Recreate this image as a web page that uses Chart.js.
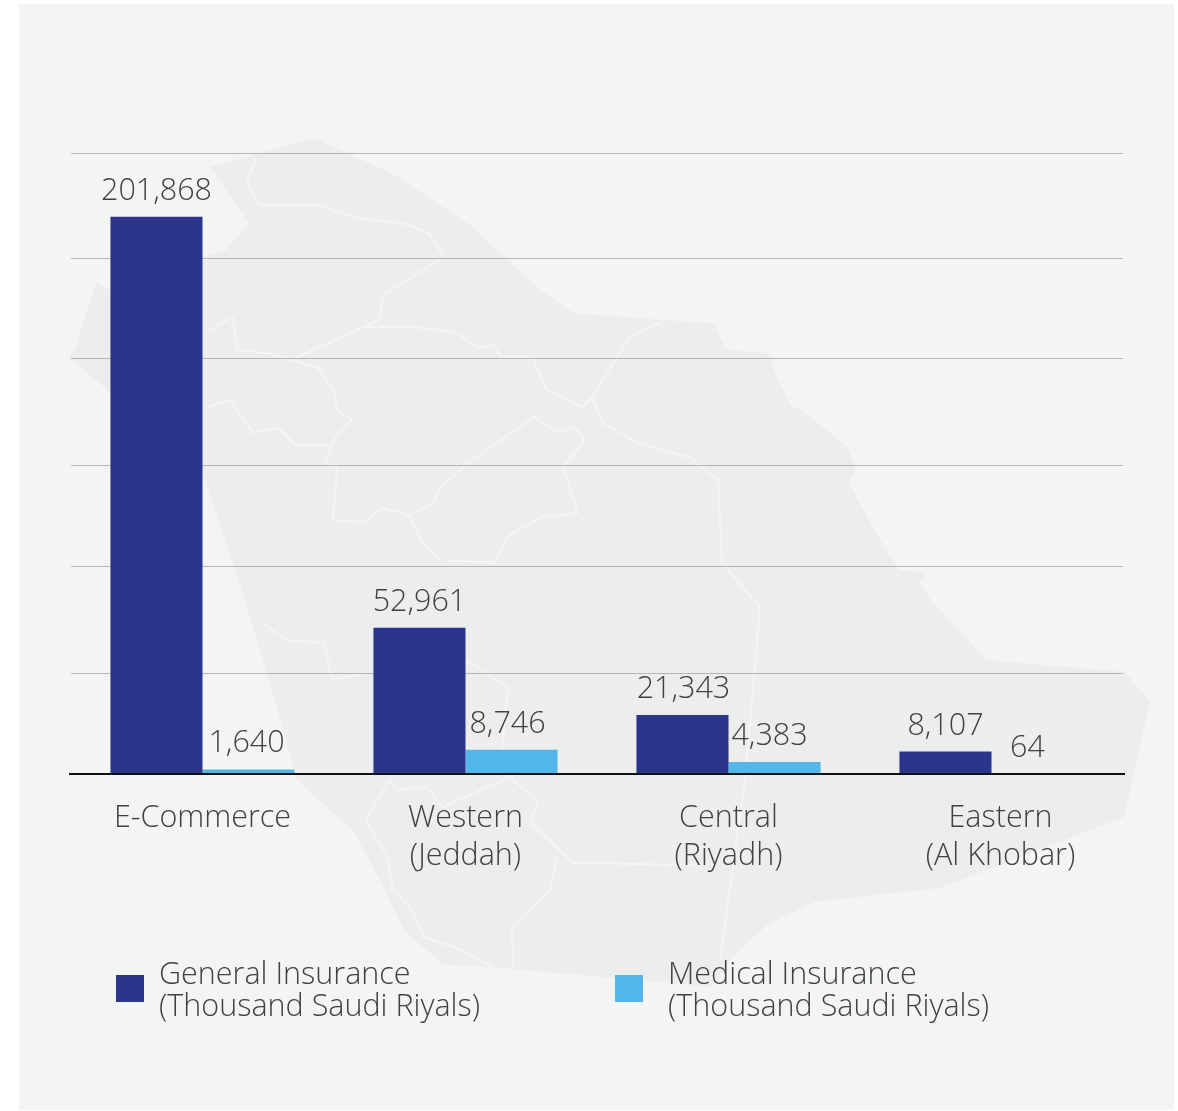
<!DOCTYPE html>
<html>
<head>
<meta charset="utf-8">
<title>Insurance by region</title>
<script src="https://cdn.jsdelivr.net/npm/chart.js@4"></script>
<style>
html,body{margin:0;padding:0;background:#fff;}
#wrap{position:relative;width:1178px;height:1111px;overflow:hidden;}
#panel{position:absolute;left:19px;top:4px;width:1155px;height:1106px;background:#f3f5f5;}
#map{position:absolute;left:0;top:0;}
#myChart{position:absolute;left:0;top:0;}
</style>
</head>
<body>
<div id="wrap">
<div id="panel"></div>
<svg id="map" width="1178" height="1111" viewBox="0 0 1178 1111">
<path fill="#eceeee" d="M314 138 L395 175 L470 225 L540 290 L574 313 L662 320 L714 323 L726 350 L768 353 L776 375 L791 405 L808 415 L847 447 L856 467 L849 483 L876 533 L899 570 L927 573 L920 583 L933 603 L987 660 L1125 672 L1150 702 L1124 817 L940 888 L814 902 L767 925 L730 960 L711 987 L600 977 L492 967 L443 965 L404 930 L381 883 L355 833 L297 780 L274 697 L244 597 L203 473 L69 357 L76 347 L96 282 L111 290 L203 257 L226 250 L249 223 L210 167 Z"/>
<g fill="none" stroke="#f3f5f5" stroke-width="2" stroke-linejoin="round">
<polyline points="256,157 247,183 260,205 318,205 356,218 402,223 429,233 444,257 383,295 379,320 364,327 295,358"/>
<polyline points="364,327 413,327 455,332 478,348 494,345 501,357 532,357 547,390 582,407 592,397"/>
<polyline points="207,332 233,317 237,350 268,353 318,368 335,393 337,410 352,420 335,437 325,463 337,467 333,520 364,522 383,508 409,515 421,540 440,560"/>
<polyline points="409,515 434,503 438,490 469,462 501,440 534,417 559,433 574,427 585,440 563,467 578,513 543,517 509,535 494,563 444,560"/>
<polyline points="207,407 230,400 253,433 279,428 295,445 331,445"/>
<polyline points="662,322 630,337 592,397 603,423 638,443 691,458 718,480 722,563 760,607 745,780 720,960"/>
<polyline points="263,623 286,640 324,643 332,680 366,673"/>
<polyline points="466,660 508,687 500,770 538,800 531,823 573,863 700,865"/>
<polyline points="389,780 366,820 387,857 393,890 412,910 424,937 462,950 492,967"/>
<polyline points="557,857 550,890 512,927 513,967"/>
<polyline points="519,773 443,807 427,787 397,790 389,780"/>
</g>
</svg>
<canvas id="myChart" width="1178" height="1111"></canvas>
</div>
<script>
var categories = [['E-Commerce'], ['Western', '(Jeddah)'], ['Central', '(Riyadh)'], ['Eastern', '(Al Khobar)']];
var generalValues = [201868, 52961, 21343, 8107];
var medicalValues = [1640, 8746, 4383, 64];
var generalLegend = ['General Insurance', '(Thousand Saudi Riyals)'];
var medicalLegend = ['Medical Insurance', '(Thousand Saudi Riyals)'];
var gridValues = [0, 36480, 75320, 111620, 150470, 186770, 225000];

var textFont = '300 30.5px "Open Sans"';
var textColor = '#3f4142';
// hand placed nudges, the source labels are not centred on their bars
var generalShift = [0, 0, 1, 0];
var medicalShift = [-2, -4, -5, -10];
var categoryShift = [0, 0, 0, 9];

var labelsPlugin = {
    id: 'labels',
    afterDatasetsDraw: function (chart) {
        var ctx = chart.ctx;
        var x = chart.scales.x;
        var y = chart.scales.y;
        ctx.save();

        // baseline runs slightly past the grid
        ctx.strokeStyle = '#111';
        ctx.lineWidth = 2;
        ctx.beginPath();
        ctx.moveTo(chart.chartArea.left - 2, y.getPixelForValue(0));
        ctx.lineTo(chart.chartArea.right + 2, y.getPixelForValue(0));
        ctx.stroke();

        ctx.font = textFont;
        ctx.fillStyle = textColor;
        ctx.textAlign = 'center';
        ctx.textBaseline = 'alphabetic';

        var shifts = [generalShift, medicalShift];
        chart.data.datasets.forEach(function (ds, d) {
            chart.getDatasetMeta(d).data.forEach(function (bar, i) {
                ctx.fillText(ds.data[i].toLocaleString('en-US'), bar.x + shifts[d][i], bar.y - 17);
            });
        });

        categories.forEach(function (lines, i) {
            lines.forEach(function (line, n) {
                ctx.fillText(line, x.getPixelForValue(i) + categoryShift[i], 827 + n * 38);
            });
        });

        // legend
        ctx.textAlign = 'left';
        var legendX = [116, 615];
        var legendText = [generalLegend, medicalLegend];
        chart.data.datasets.forEach(function (ds, d) {
            ctx.fillStyle = ds.backgroundColor;
            ctx.fillRect(legendX[d], 975, 28, 27);
            ctx.fillStyle = textColor;
            legendText[d].forEach(function (line, n) {
                ctx.fillText(line, legendX[d] + 43 + (d == 1 ? 10 : 0), 984 + n * 32);
            });
        });
        ctx.restore();
    }
};

var ctx = document.getElementById('myChart').getContext('2d');
var myChart = new Chart(ctx, {
    type: 'bar',
    data: {
        labels: categories,
        datasets: [{
            label: generalLegend.join(' '),
            data: generalValues,
            backgroundColor: '#2b358c',
            barPercentage: 1,
            categoryPercentage: 0.7
        }, {
            label: medicalLegend.join(' '),
            data: medicalValues,
            backgroundColor: '#52b6e8',
            barPercentage: 1,
            categoryPercentage: 0.7
        }]
    },
    options: {
        responsive: false,
        animation: false,
        layout: {
            padding: { left: 71, right: 55, top: 153, bottom: 329 }
        },
        plugins: {
            legend: { display: false },
            tooltip: { enabled: false }
        },
        scales: {
            x: {
                grid: { display: false },
                border: { display: false },
                ticks: { display: false }
            },
            y: {
                min: 0,
                max: 225000,
                afterBuildTicks: function (axis) {
                    axis.ticks = gridValues.map(function (v) { return { value: v }; });
                },
                grid: { color: '#b4b6b6', lineWidth: 1, drawTicks: false },
                border: { display: false },
                ticks: { display: false }
            }
        }
    },
    plugins: [labelsPlugin]
});
</script>
</body>
</html>
